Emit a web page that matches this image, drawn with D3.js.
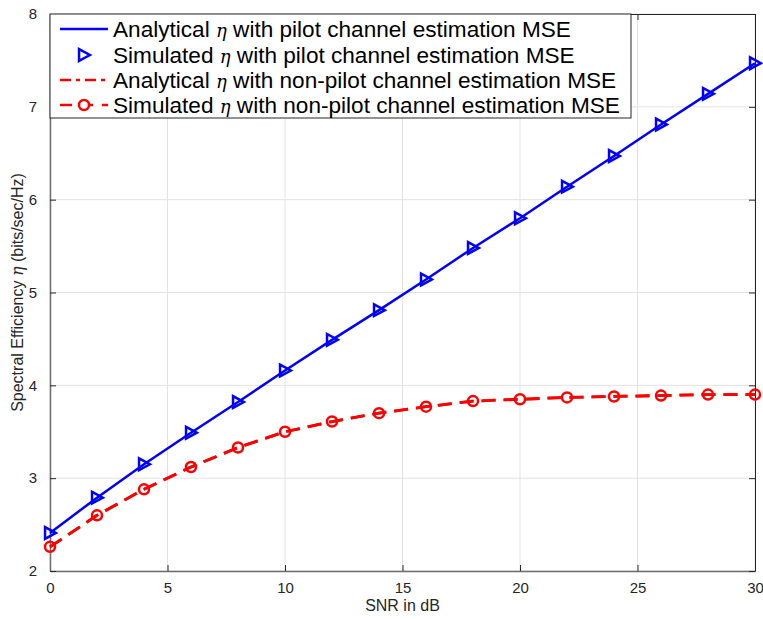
<!DOCTYPE html>
<html><head><meta charset="utf-8">
<script src="https://cdn.jsdelivr.net/npm/d3@7"></script>
<style>body{margin:0;background:#fff}svg{display:block}</style>
</head><body>
<script>
const snr = [0,2,4,6,8,10,12,14,16,18,20,22,24,26,28,30];
const pilotAnalytical = [2.41,2.79,3.15,3.49,3.82,4.16,4.49,4.81,5.14,5.48,5.80,6.14,6.47,6.81,7.14,7.47];
const pilotSimulated  = [2.41,2.79,3.15,3.49,3.82,4.16,4.49,4.81,5.14,5.48,5.80,6.14,6.47,6.81,7.14,7.47];
const nonPilotAnalytical = [2.26,2.60,2.88,3.12,3.33,3.50,3.61,3.70,3.77,3.83,3.85,3.87,3.88,3.89,3.90,3.90];
const nonPilotSimulated  = [2.26,2.60,2.88,3.12,3.33,3.50,3.61,3.70,3.77,3.83,3.85,3.87,3.88,3.89,3.90,3.90];
const xTicks = [0,5,10,15,20,25,30];
const yTicks = [2,3,4,5,6,7,8];
const legendLabels = ["Analytical ","Simulated ","Analytical ","Simulated "];
const legendTails = [" with pilot channel estimation MSE"," with pilot channel estimation MSE"," with non-pilot channel estimation MSE"," with non-pilot channel estimation MSE"];

const W=763,H=619;
const m={l:50,t:14,r:755,b:571};
const svg=d3.select("body").append("svg").attr("width",W).attr("height",H);
const x=d3.scaleLinear().domain([0,30]).range([m.l,m.r]);
const y=d3.scaleLinear().domain([2,8]).range([m.b,m.t]);
const font="'Liberation Sans', Arial, Helvetica, sans-serif";
const axisCol="#262626";

// grid
const g=svg.append("g");
g.selectAll(".gx").data(xTicks).enter().append("line")
 .attr("x1",d=>x(d)).attr("x2",d=>x(d)).attr("y1",m.t).attr("y2",m.b)
 .attr("stroke","#e3e3e3").attr("stroke-width",1);
g.selectAll(".gy").data(yTicks).enter().append("line")
 .attr("y1",d=>y(d)).attr("y2",d=>y(d)).attr("x1",m.l).attr("x2",m.r)
 .attr("stroke","#e3e3e3").attr("stroke-width",1);

// axes (ticks inward, box)
const fmt=d3.format("d");
const ax=svg.append("g").attr("transform",`translate(0,${m.b})`)
 .call(d3.axisBottom(x).tickValues(xTicks).tickFormat(fmt).tickSizeInner(-6).tickSizeOuter(0).tickPadding(11));
const axT=svg.append("g").attr("transform",`translate(0,${m.t})`)
 .call(d3.axisTop(x).tickValues(xTicks).tickSizeInner(-6).tickSizeOuter(0).tickFormat(""));
const ay=svg.append("g").attr("transform",`translate(${m.l},0)`)
 .call(d3.axisLeft(y).tickValues(yTicks).tickFormat(fmt).tickSizeInner(-6).tickSizeOuter(0).tickPadding(13));
const ayR=svg.append("g").attr("transform",`translate(${m.r},0)`)
 .call(d3.axisRight(y).tickValues(yTicks).tickSizeInner(-6).tickSizeOuter(0).tickFormat(""));
[ax,axT,ay,ayR].forEach(a=>{
  a.selectAll("path").attr("stroke",axisCol).attr("stroke-width",1);
  a.selectAll("line").attr("stroke",axisCol).attr("stroke-width",1);
  a.selectAll("text").attr("fill",axisCol).style("font-family",font).style("font-size","15px");
});
ax.select(".domain").attr("stroke","#6e6e6e").attr("stroke-width",1.5);
ay.select(".domain").attr("stroke","#6e6e6e").attr("stroke-width",1.5);

// lines
const lineGen=(xs,ys)=>d3.line().x((d,i)=>x(xs[i])).y(d=>y(d))(ys);
const plot=svg.append("g");
plot.append("path").attr("d",lineGen(snr,pilotAnalytical)).attr("fill","none")
 .attr("stroke","#0000ff").attr("stroke-width",2.5);
plot.append("path").attr("d",lineGen(snr,nonPilotAnalytical)).attr("fill","none")
 .attr("stroke","#ff0000").attr("stroke-width",2.8).attr("stroke-dasharray","14,8");
plot.append("path").attr("d",lineGen(snr,nonPilotSimulated)).attr("fill","none")
 .attr("stroke","#ff0000").attr("stroke-width",2.8).attr("stroke-dasharray","14,8");
const tri=(cx,cy,s)=>`M${cx-s*0.55},${cy-s*0.65}L${cx+s*0.65},${cy}L${cx-s*0.55},${cy+s*0.65}Z`;
plot.selectAll(".tri").data(pilotSimulated).enter().append("path")
 .attr("d",(d,i)=>tri(x(snr[i]),y(d),9)).attr("fill","none").attr("stroke","#0000ff").attr("stroke-width",2.5);
plot.selectAll(".circ").data(nonPilotSimulated).enter().append("circle")
 .attr("cx",(d,i)=>x(snr[i])).attr("cy",d=>y(d)).attr("r",5)
 .attr("fill","none").attr("stroke","#ff0000").attr("stroke-width",2.5);

// legend
const lg=svg.append("g");
lg.append("rect").attr("x",m.l).attr("y",m.t).attr("width",581).attr("height",104)
 .attr("fill","#fff").attr("stroke",axisCol).attr("stroke-width",1);
const rowsY=[29,55,80,105];
lg.append("line").attr("x1",60).attr("x2",108).attr("y1",rowsY[0]).attr("y2",rowsY[0]).attr("stroke","#0000ff").attr("stroke-width",2.5);
lg.append("path").attr("d",tri(84,rowsY[1],9)).attr("fill","none").attr("stroke","#0000ff").attr("stroke-width",2.5);
lg.append("line").attr("x1",60).attr("x2",108).attr("y1",rowsY[2]).attr("y2",rowsY[2]).attr("stroke","#ff0000").attr("stroke-width",2.5).attr("stroke-dasharray","11,5,4,5");
lg.append("line").attr("x1",60).attr("x2",108).attr("y1",rowsY[3]).attr("y2",rowsY[3]).attr("stroke","#ff0000").attr("stroke-width",2.5).attr("stroke-dasharray","12,9");
lg.append("circle").attr("cx",84).attr("cy",rowsY[3]).attr("r",5).attr("fill","#fff").attr("stroke","#ff0000").attr("stroke-width",2.5);
legendLabels.forEach((lab,i)=>{
  const t=lg.append("text").attr("x",113).attr("y",rowsY[i]+8).style("font-family",font).style("font-size","22.6px").attr("fill","#000");
  t.append("tspan").text(lab);
  t.append("tspan").text("η").style("font-family","'DejaVu Serif', serif").style("font-style","italic").style("font-size","18px");
  t.append("tspan").text(legendTails[i]);
});

// axis labels
svg.append("text").attr("x",(m.l+m.r)/2).attr("y",611).attr("text-anchor","middle")
 .style("font-family",font).style("font-size","16px").attr("fill",axisCol).text("SNR in dB");
const yl=svg.append("text").attr("transform",`translate(23,${(m.t+m.b)/2}) rotate(-90)`).attr("text-anchor","middle")
 .style("font-family",font).style("font-size","16px").attr("fill",axisCol);
yl.append("tspan").text("Spectral Efficiency ");
yl.append("tspan").text("η").style("font-family","'DejaVu Serif', serif").style("font-style","italic");
yl.append("tspan").text(" (bits/sec/Hz)");
</script>
</body></html>
